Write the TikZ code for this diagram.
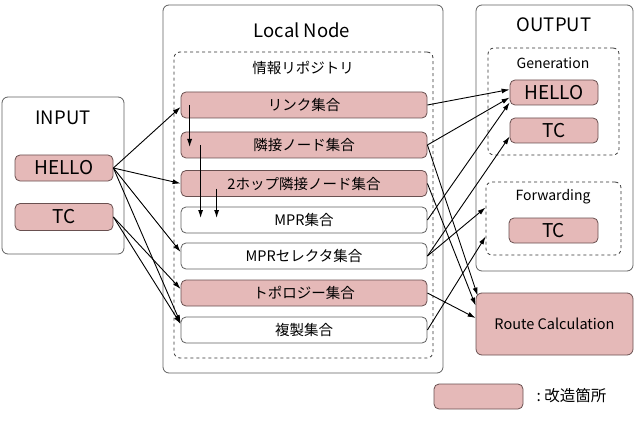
\documentclass[tikz,border=0pt]{standalone}
\usepackage{fontspec}
\setmainfont{Noto Sans CJK JP}
\usepackage{tikz}
\usetikzlibrary{arrows.meta,positioning,calc}
\definecolor{modpink}{RGB}{229,185,184}
\definecolor{modedge}{RGB}{105,80,80}
\definecolor{boxedge}{RGB}{95,95,95}

\begin{document}
\begin{tikzpicture}[x=1pt,y=-1pt,
  group/.style={draw=boxedge,line width=0.8pt,rounded corners=6pt,inner sep=0pt},
  area/.style={draw=black!80,dashed,line width=0.8pt,rounded corners=6pt,inner sep=0pt},
  setbox/.style={draw=boxedge,line width=0.8pt,rounded corners=5pt,inner sep=0pt,
    minimum width=246pt,minimum height=26pt,font=\fontsize{14.5}{16}\selectfont},
  msgbox/.style={draw=modedge,fill=modpink,line width=0.8pt,rounded corners=5pt,inner sep=0pt,
    minimum width=90pt,minimum height=25pt,font=\fontsize{19}{21}\selectfont},
  mod/.style={fill=modpink,draw=modedge},
  title/.style={font=\fontsize{18.5}{20}\selectfont},
  subtitle/.style={font=\fontsize{14}{16}\selectfont},
  link/.style={-{Latex[length=8pt,width=5pt]},line width=0.9pt}]
\useasboundingbox (0,0) rectangle (636,422);

% containers
\node[group,minimum width=122pt,minimum height=157pt] (inbox) at (63,175.5) {};
\node[group,minimum width=280pt,minimum height=368pt] (localbox) at (303,189) {};
\node[area,minimum width=259pt,minimum height=306pt] (repo) at (303.5,205) {};
\node[group,minimum width=157pt,minimum height=266pt] (outbox) at (554.5,138) {};
\node[area,minimum width=131pt,minimum height=107pt] (genbox) at (553.5,101.5) {};
\node[area,minimum width=135pt,minimum height=73pt] (fwdbox) at (553.5,218.5) {};

\node[title] (intitle) at (63,118) {INPUT};
\node[title] (localtitle) at (302,30) {Local Node};
\node[font=\fontsize{14.5}{16}\selectfont] (repotitle) at (303,68) {情報リポジトリ};
\node[title] (outtitle) at (554,25) {OUTPUT};
\node[subtitle] (gentitle) at (553,63) {Generation};
\node[subtitle] (fwdtitle) at (553,197) {Forwarding};

% input messages
\node[msgbox,minimum width=98pt,minimum height=26pt] (inhello) at (64,168) {HELLO};
\node[msgbox,minimum width=98pt,minimum height=27pt] (intc) at (64,217) {TC};

% repository sets
\node[setbox,mod] (linkset) at (304,105) {リンク集合};
\node[setbox,mod] (nbrset) at (304,145) {隣接ノード集合};
\node[setbox,mod] (twohopset) at (304,183.5) {2ホップ隣接ノード集合};
\node[setbox] (mprset) at (304,220) {MPR集合};
\node[setbox] (mprsset) at (304,256) {MPRセレクタ集合};
\node[setbox,mod] (toposet) at (304,293) {トポロジー集合};
\node[setbox] (dupset) at (304,330) {複製集合};

% output
\node[msgbox,minimum width=88pt] (genhello) at (554,92.5) {HELLO};
\node[msgbox,minimum width=88pt] (gentc) at (554,130.5) {TC};
\node[msgbox,minimum width=89pt] (fwdtc) at (553.5,230.5) {TC};
\node[group,mod,minimum width=157pt,minimum height=62pt,
  font=\fontsize{14.5}{16}\selectfont] (route) at (554.5,324) {Route Calculation};

% legend
\node[group,mod,rounded corners=5pt,minimum width=89pt,minimum height=25pt] (legend) at (478.5,396.5) {};
\node[anchor=west,font=\fontsize{15.5}{17}\selectfont] (legendtext) at (533,396) {:\ 改造箇所};

% input -> repository
\draw[link] (inhello.east) -- ([yshift=-2pt]linkset.west);
\draw[link] (inhello.east) -- (twohopset.west);
\draw[link] (inhello.east) -- ([yshift=4pt]mprsset.west);
\draw[link] (inhello.east) -- ([yshift=7pt]dupset.west);
\draw[link] (intc.east) -- ([yshift=4pt]toposet.west);
\draw[link] (intc.east) -- ([yshift=6pt]dupset.west);

% inside repository
\draw[link] ([xshift=9pt]linkset.west) -- ([xshift=9pt,yshift=-2pt]nbrset.west);
\draw[link] ([xshift=20pt]nbrset.west) -- ([xshift=20pt,yshift=2pt]mprset.west);
\draw[link] ([xshift=36pt,yshift=-5pt]twohopset.west) -- ([xshift=36pt,yshift=2pt]mprset.west);

% repository -> output
\draw[link] (linkset.east) -- ([yshift=3pt]genhello.west);
\draw[link] (nbrset.east) -- ([yshift=-5pt]genhello.west);
\draw[link] (mprset.east) -- ([yshift=-10pt]genhello.west);
\draw[link] (mprsset.east) -- ([yshift=-6pt]gentc.west);
\draw[link] (mprsset.east) -- ([yshift=11pt]fwdbox.west);
\draw[link] (dupset.east) -- ([yshift=-18pt]fwdbox.west);
\draw[link] (nbrset.east) -- ([xshift=2pt,yshift=-3pt]route.north west);
\draw[link] (twohopset.east) -- ([yshift=-13pt]route.north west);
\draw[link] (toposet.east) -- ([yshift=6pt]route.west);
\end{tikzpicture}
\end{document}
